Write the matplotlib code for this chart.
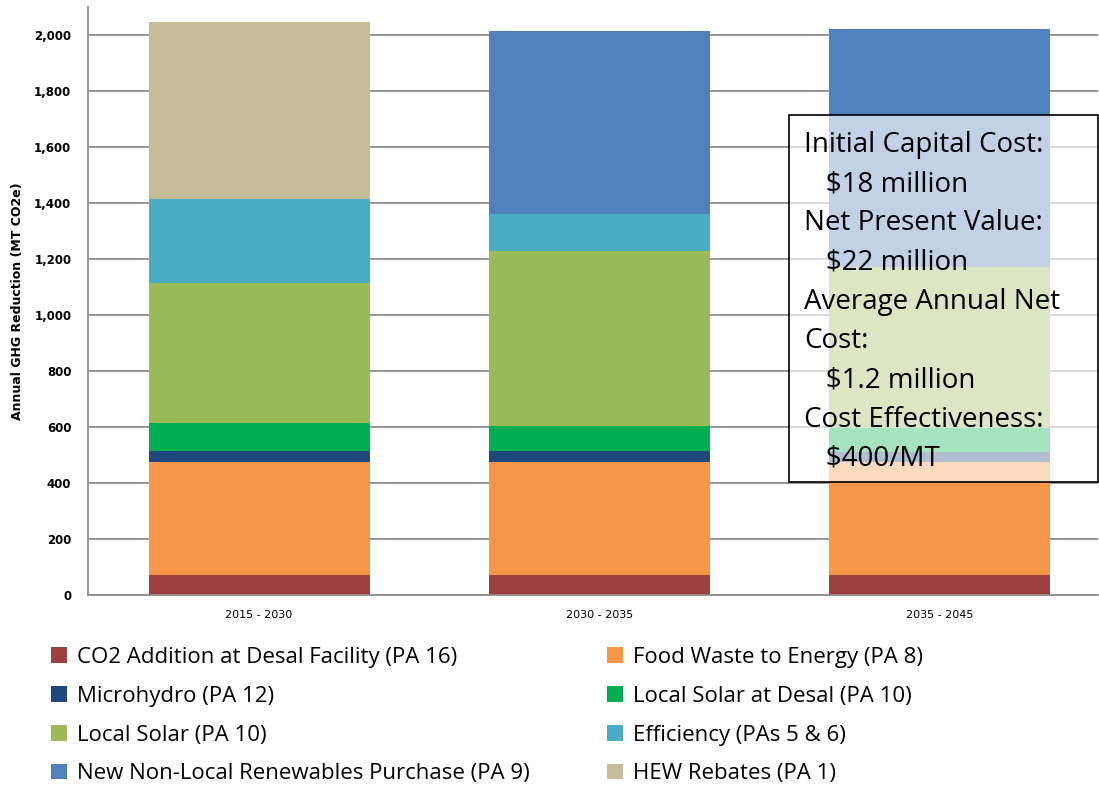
import numpy as np
import matplotlib.pyplot as plt
from matplotlib.patches import Rectangle

# periods on the x axis
periods = ["2015 - 2030", "2030 - 2035", "2035 - 2045"]

# annual GHG reduction per measure (MT CO2e), one value per period
co2_desal = [70, 70, 70]
food_waste = [405, 405, 405]
microhydro = [39, 40, 36]
solar_desal = [100, 90, 85]
local_solar = [500, 625, 575]
efficiency = [300, 132, 0]
non_local = [0, 653, 850]
hew_rebates = [632, 0, 0]

series_names = [
    "CO2 Addition at Desal Facility (PA 16)",
    "Food Waste to Energy (PA 8)",
    "Microhydro (PA 12)",
    "Local Solar at Desal (PA 10)",
    "Local Solar (PA 10)",
    "Efficiency (PAs 5 & 6)",
    "New Non-Local Renewables Purchase (PA 9)",
    "HEW Rebates (PA 1)",
]
series_vals = [co2_desal, food_waste, microhydro, solar_desal,
               local_solar, efficiency, non_local, hew_rebates]
colors = ["#9E413E", "#F79646", "#1F497D", "#00B050",
          "#9BBB59", "#4BACC6", "#4F81BD", "#C4BD97"]

box_lines = [
    "Initial Capital Cost:",
    r"   \$18 million",
    "Net Present Value:",
    r"   \$22 million",
    "Average Annual Net",
    "Cost:",
    r"   \$1.2 million",
    "Cost Effectiveness:",
    r"   \$400/MT",
]

W, H = 1099, 788
fig = plt.figure(figsize=(W / 100, H / 100), dpi=100)
ax = fig.add_axes([88 / W, 1 - 595 / H, (1098 - 88) / W, (595 - 7) / H])

x = np.arange(len(periods))
bottom = np.zeros(len(periods))
bars = []
for name, vals, col in zip(series_names, series_vals, colors):
    b = ax.bar(x, vals, width=0.65, bottom=bottom, color=col, label=name, zorder=2)
    bars.append(b)
    bottom += np.array(vals)

ax.set_ylim(0, 2100)
ax.set_xlim(-0.503, 2.466)
ax.set_yticks(np.arange(0, 2001, 200))
ax.set_yticklabels([f"{v:,}" for v in range(0, 2001, 200)], fontsize=8.5, fontweight="bold")
ax.set_xticks(x)
ax.set_xticklabels(periods, fontsize=8)
ax.tick_params(axis="both", length=0, pad=11)
ax.tick_params(axis="y", pad=12)
ax.grid(axis="y", color="#8C8C8C", linewidth=1.3, zorder=0)
ax.set_axisbelow(True)
for s in ["top", "right"]:
    ax.spines[s].set_visible(False)
ax.spines["left"].set_color("#8C8C8C")
ax.spines["bottom"].set_color("#8C8C8C")
ax.spines["left"].set_linewidth(1.3)
ax.spines["bottom"].set_linewidth(1.3)
ax.set_ylabel("Annual GHG Reduction (MT CO2e)", fontsize=9, fontweight="bold")
ax.yaxis.set_label_coords(-0.063, 0.5)

# cost summary box over the third bar
fig.add_artist(Rectangle((789 / W, 1 - 482 / H), (1098 - 789) / W, (482 - 115) / H,
                         transform=fig.transFigure, facecolor="white", alpha=0.65,
                         edgecolor="none", zorder=5))
fig.add_artist(Rectangle((789 / W, 1 - 482 / H), (1098 - 789) / W, (482 - 115) / H,
                         transform=fig.transFigure, facecolor="none",
                         edgecolor="black", linewidth=1.2, zorder=6))
fig.text(804 / W, 1 - 131 / H, "\n".join(box_lines), fontsize=20, family="Open Sans",
         va="top", ha="left", linespacing=1.535, zorder=7)

order = [0, 2, 4, 6, 1, 3, 5, 7]
handles = [bars[i] for i in order]
labels = [series_names[i] for i in order]
fig.legend(handles, labels, ncol=2, loc="upper left", bbox_to_anchor=(31 / W, 1 - 627 / H),
           frameon=False, prop={"family": "Open Sans", "size": 16},
           handlelength=0.7, handleheight=0.7, handletextpad=0.45,
           columnspacing=3.5, labelspacing=0.8)

fig.savefig("out.png", dpi=100)
